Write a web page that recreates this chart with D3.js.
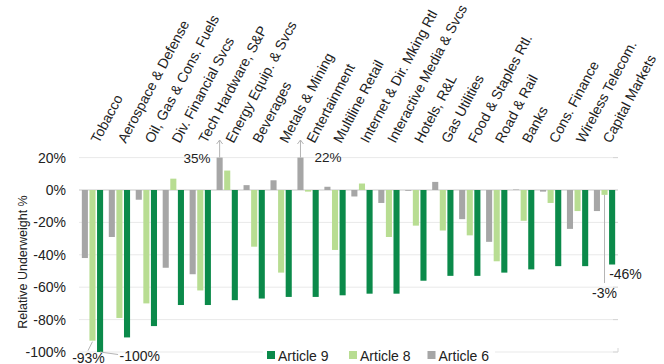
<!DOCTYPE html>
<html>
<head>
<meta charset="utf-8">
<script src="https://cdn.jsdelivr.net/npm/d3@7/dist/d3.min.js"></script>
<style>
  html, body { margin: 0; padding: 0; background: #fff; }
  svg { display: block; font-family: "Liberation Sans", Arial, sans-serif; }
</style>
</head>
<body>
<svg id="chart" width="664" height="364"></svg>
<script>
// Sectors, ordered by Article 9 underweight
const categories = [
  "Tobacco", "Aerospace & Defense", "Oil, Gas & Cons. Fuels", "Div. Financial Svcs",
  "Tech Hardware, S&P", "Energy Equip. & Svcs", "Beverages", "Metals & Mining",
  "Entertainment", "Multiline Retail", "Internet & Dir. Mking Rtl", "Interactive Media & Svcs",
  "Hotels, R&L", "Gas Utilities", "Food & Staples Rtl.", "Road & Rail",
  "Banks", "Cons. Finance", "Wireless Telecom.", "Capital Markets"
];

// Relative underweight (%) per fund classification
const article9 = [-100, -91, -84, -71, -71, -68, -67, -66, -66, -65, -64, -64, -56, -53, -53, -51, -49, -47, -47, -46];
const article8 = [-93, -79, -70, 7, -62, 12, -35, -51, -1, -37, 4, -29, -22, -25, -28, -44, -19, -8, -13, -3];
const article6 = [-42, -29, -6, -48, -52, 35, 3, 6, 22, 2, -4, -8, -0.5, 5, -18, -32, 0.3, -1, -24, -13];

const seriesNames = ["Article 6", "Article 8", "Article 9"];
const legendOrder = ["Article 9", "Article 8", "Article 6"];
const yTicks = [20, 0, -20, -40, -60, -80, -100];

const colors = { "Article 9": "#0b8a4a", "Article 8": "#b8dd92", "Article 6": "#a6a6a6" };
const values = { "Article 9": article9, "Article 8": article8, "Article 6": article6 };

const svg = d3.select("#chart");

const x = d3.scaleBand().domain(categories).range([79, 618]).paddingInner(0).paddingOuter(0);
const x1 = d3.scaleBand().domain(seriesNames).range([0, 22.8]).paddingInner(0.2).paddingOuter(0.1);
const groupOffset = (x.bandwidth() - 22.8) / 2;
const y = d3.scaleLinear().domain([-100, 20]).range([352, 157.6]).clamp(true);

// Gridlines
svg.append("g").selectAll("line").data(yTicks).join("line")
  .attr("x1", 79).attr("x2", 618)
  .attr("y1", d => y(d)).attr("y2", d => y(d))
  .attr("stroke", d => d === 0 ? "#c8c8c8" : "#e9e9e9")
  .attr("stroke-width", 1);

// Short tick marks closing the plot area on the right
svg.append("g").selectAll("line").data(yTicks.filter(d => d !== 0)).join("line")
  .attr("x1", 613).attr("x2", 618)
  .attr("y1", d => y(d)).attr("y2", d => y(d))
  .attr("stroke", "#d6d6d6");
svg.append("line").attr("x1", 618).attr("x2", 618).attr("y1", y(-100) - 4).attr("y2", y(-100))
  .attr("stroke", "#d6d6d6");

// Y axis tick labels
const yAxis = d3.axisLeft(y).tickValues(yTicks).tickFormat(d => d + "%").tickSize(0).tickPadding(0);
const yg = svg.append("g").attr("transform", "translate(66,0)").call(yAxis);
yg.select(".domain").remove();
yg.selectAll("text").attr("font-size", 14).attr("fill", "#222")
  .attr("font-family", "Liberation Sans, Arial, sans-serif");

// Y axis title
svg.append("text")
  .attr("transform", "translate(27,262) rotate(-90)")
  .attr("text-anchor", "middle")
  .attr("font-size", 12.5).attr("fill", "#222")
  .text("Relative Underweight %");

// Bars
const rows = [];
categories.forEach((c, i) => seriesNames.forEach(s => rows.push({ c, s, v: values[s][i] })));
svg.append("g").selectAll("rect").data(rows).join("rect")
  .attr("x", d => x(d.c) + groupOffset + x1(d.s))
  .attr("width", x1.bandwidth())
  .attr("y", d => Math.min(y(d.v), y(0)))
  .attr("height", d => Math.abs(y(d.v) - y(0)))
  .attr("fill", d => colors[d.s]);

// Category labels, rotated
svg.append("g").selectAll("text").data(categories).join("text")
  .attr("transform", d => `translate(${x(d) + x.bandwidth() / 2 + 6.3},144) rotate(-62)`)
  .attr("font-size", 14).attr("fill", "#222")
  .text(d => d);

// Value callouts for bars running off the axis range
const barCenter = (c, s) => x(c) + groupOffset + x1(s) + x1.bandwidth() / 2;
const barEnd = (c, s) => y(values[s][categories.indexOf(c)]);
const callColor = "#b4b4b4";

function upArrow(cx, yBottom, yTop) {
  svg.append("line").attr("x1", cx).attr("x2", cx).attr("y1", yBottom).attr("y2", yTop)
    .attr("stroke", callColor).attr("stroke-width", 1);
  svg.append("path").attr("d", `M${cx - 3},${yTop + 4}L${cx},${yTop}L${cx + 3},${yTop + 4}`)
    .attr("fill", "none").attr("stroke", callColor).attr("stroke-width", 1);
}

const fmt = v => v + "%";

// Energy Equip. & Svcs, Article 6
{
  const c = "Energy Equip. & Svcs", cx = barCenter(c, "Article 6");
  upArrow(cx, y(20), 140);
  svg.append("text").attr("x", cx - 9).attr("y", 162.5).attr("text-anchor", "end")
    .attr("font-size", 13.5).attr("fill", "#222").text(fmt(article6[categories.indexOf(c)]));
}
// Entertainment, Article 6
{
  const c = "Entertainment", cx = barCenter(c, "Article 6");
  upArrow(cx, y(20), 140);
  svg.append("text").attr("x", cx + 14).attr("y", 161.5).attr("text-anchor", "start")
    .attr("font-size", 13.5).attr("fill", "#222").text(fmt(article6[categories.indexOf(c)]));
}
// Tobacco, Article 8
{
  const c = "Tobacco", cx = barCenter(c, "Article 8"), yb = barEnd(c, "Article 8");
  svg.append("line").attr("x1", cx).attr("y1", yb + 1).attr("x2", cx - 4.5).attr("y2", yb + 10)
    .attr("stroke", callColor);
  svg.append("text").attr("x", cx - 4).attr("y", 363).attr("text-anchor", "middle")
    .attr("font-size", 14).attr("fill", "#222").text(fmt(article8[categories.indexOf(c)]));
}
// Tobacco, Article 9
{
  const c = "Tobacco", cx = barCenter(c, "Article 9"), yb = barEnd(c, "Article 9");
  svg.append("line").attr("x1", cx).attr("y1", yb).attr("x2", cx + 18).attr("y2", yb + 2.5)
    .attr("stroke", callColor);
  svg.append("text").attr("x", cx + 19.5).attr("y", 360.5).attr("text-anchor", "start")
    .attr("font-size", 14).attr("fill", "#222").text(fmt(article9[categories.indexOf(c)]));
}
// Capital Markets, Article 9
{
  const c = "Capital Markets", cx = barCenter(c, "Article 9"), yb = barEnd(c, "Article 9");
  svg.append("text").attr("x", cx - 3).attr("y", yb + 14).attr("text-anchor", "start")
    .attr("font-size", 14).attr("fill", "#222").text(fmt(article9[categories.indexOf(c)]));
}
// Capital Markets, Article 8
{
  const c = "Capital Markets", cx = barCenter(c, "Article 8"), yb = barEnd(c, "Article 8");
  svg.append("line").attr("x1", cx).attr("x2", cx).attr("y1", yb).attr("y2", 283)
    .attr("stroke", callColor);
  svg.append("text").attr("x", cx).attr("y", 297.5).attr("text-anchor", "middle")
    .attr("font-size", 14).attr("fill", "#222").text(fmt(article8[categories.indexOf(c)]));
}

// Legend
const legendX = { "Article 9": 267, "Article 8": 349, "Article 6": 427.5 };
svg.append("rect").attr("x", 263).attr("y", 347).attr("width", 232).attr("height", 17).attr("fill", "#fff");
const lg = svg.append("g").selectAll("g").data(legendOrder).join("g")
  .attr("transform", d => `translate(${legendX[d]},0)`);
lg.append("rect").attr("x", 0).attr("y", 351).attr("width", 8).attr("height", 8).attr("fill", d => colors[d]);
lg.append("text").attr("x", 11).attr("y", 360.5).attr("font-size", 14).attr("fill", "#222").text(d => d);
</script>
</body>
</html>
